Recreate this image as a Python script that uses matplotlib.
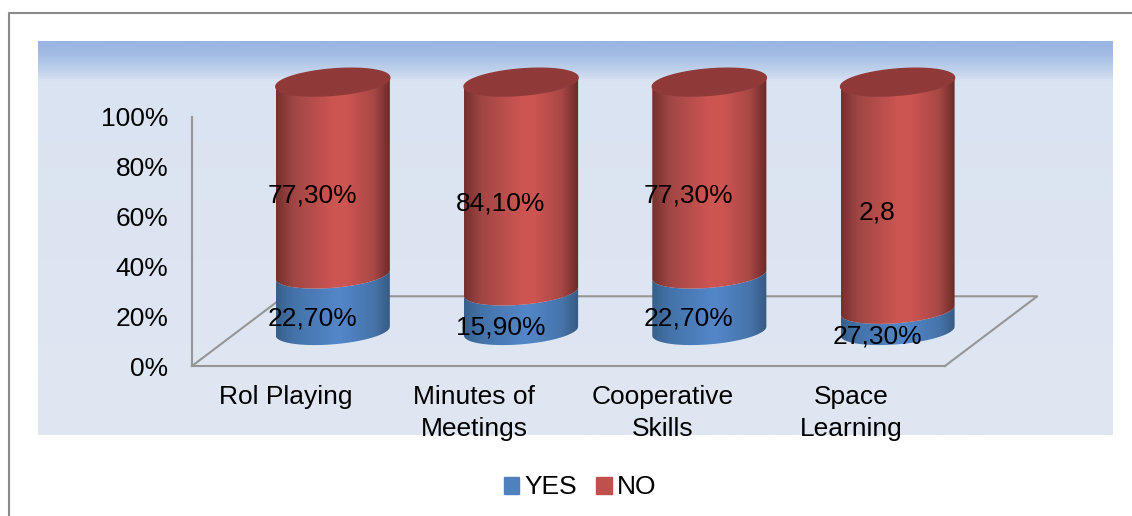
import numpy as np
import matplotlib
matplotlib.use('Agg')
import matplotlib.pyplot as plt
from matplotlib.colors import LinearSegmentedColormap
from matplotlib.patches import PathPatch, Patch
from matplotlib.path import Path

categories = ['Rol Playing', 'Minutes of\nMeetings', 'Cooperative\nSkills', 'Space\nLearning']
yes_values = [22.7, 15.9, 22.7, 8.5]
no_values = [77.3, 84.1, 77.3, 91.5]
yes_labels = ['22,70%', '15,90%', '22,70%', '27,30%']
no_labels = ['77,30%', '84,10%', '77,30%', '2,8']
y_ticks = [0, 20, 40, 60, 80, 100]
y_tick_labels = ['0%', '20%', '40%', '60%', '80%', '100%']

W, H = 1132, 516
plt.rcParams['font.family'] = ['Liberation Sans', 'DejaVu Sans']
FS = 19
GRID = '#969696'

red_cmap = LinearSegmentedColormap.from_list('red', [(0, '#75302e'), (.15, '#a04644'), (.5, '#cd5552'),
                                                     (.62, '#cc5451'), (.85, '#a84846'), (1, '#6a2927')])
blue_cmap = LinearSegmentedColormap.from_list('blue', [(0, '#385f8a'), (.15, '#4473aa'), (.55, '#5487c9'),
                                                       (.85, '#4674ab'), (1, '#375a82')])
panel_cmap = LinearSegmentedColormap.from_list('panel', [(0, '#98b4e0'), (.03, '#a3bce4'), (.08, '#c6d6ed'),
                                                         (.1, '#dae3f1'), (1, '#e0e7f3')])

fig = plt.figure(figsize=(W / 100, H / 100), dpi=100, facecolor='white')

# background, in pixels
bg = fig.add_axes([0, 0, 1, 1], zorder=-1)
bg.axis('off')
bg.imshow(np.linspace(0, 1, 400).reshape(-1, 1), extent=(38, 1113, 435, 41), cmap=panel_cmap, aspect='auto')
bg.set_xlim(0, W)
bg.set_ylim(H, 0)
bg.plot([9, 9, W], [H, 13, 13], color='#8a8a8a', lw=1.5)

# chart area: 0-100% on the front edge of the floor
ax = fig.add_axes([192 / W, 1 - 366 / H, (945 - 192) / W, (366 - 117) / H])
ax.patch.set_visible(False)

depth_x, depth_y = 0.49, 28.0
half_w, b, tilt = 0.303, 5.3, 1.8


def arc(xc, yc, t):
    return xc + half_w * np.cos(t), yc + b * np.sin(t) + tilt * np.cos(t)


def segmento(xc, y0, y1, cmap):
    x_low, y_low = arc(xc, y0, np.linspace(np.pi, 2 * np.pi, 60))
    x_up, y_up = arc(xc, y1, np.linspace(2 * np.pi, np.pi, 60))
    verts = np.column_stack([np.r_[x_low, x_up], np.r_[y_low, y_up]])
    patch = PathPatch(Path(verts), fc='none', ec='none', zorder=3, clip_on=False)
    ax.add_patch(patch)
    im = ax.imshow(np.linspace(0, 1, 256).reshape(1, -1), extent=(xc - half_w, xc + half_w, y0 - 8, y1 + 8),
                   cmap=cmap, aspect='auto', zorder=3, interpolation='bilinear')
    im.set_clip_box(fig.bbox)
    im.set_clip_path(patch)


x = np.arange(len(categories))
yes = np.array(yes_values)
no = np.array(no_values)
base = depth_y / 2

# floor
ax.plot([-.5, -.5 + depth_x, 3.5 + depth_x, 3.5], [0, depth_y, depth_y, 0], color=GRID, lw=1.5,
        clip_on=False, zorder=1)

for i in x:
    xc = i + depth_x / 2 + 0.003
    segmento(xc, base, base + yes[i], blue_cmap)
    segmento(xc, base + yes[i], base + yes[i] + no[i], red_cmap)
    top = base + yes[i] + no[i]
    xt, yt = arc(xc, top, np.linspace(0, 2 * np.pi, 120))
    ax.fill(xt, yt, color='#8f3a38', zorder=4, clip_on=False)

    ax.text(i + 0.139, base - b - 1 + yes[i] / 2, yes_labels[i], ha='center', va='center', fontsize=FS, zorder=5)
    ax.text(i + 0.139, base - b - 1.5 + yes[i] + no[i] / 2, no_labels[i], ha='center', va='center', fontsize=FS, zorder=5)

ax.set_xlim(-0.5, 3.5)
ax.set_ylim(0, 100)
ax.set_xticks(x)
ax.set_xticklabels(categories, fontsize=FS, linespacing=1.38)
ax.set_yticks(y_ticks)
ax.set_yticklabels(y_tick_labels, fontsize=FS)
ax.tick_params(axis='x', length=0, pad=14)
ax.tick_params(axis='y', length=0, pad=17)
for s in ['top', 'right']:
    ax.spines[s].set_visible(False)
for s in ['left', 'bottom']:
    ax.spines[s].set_color(GRID)
    ax.spines[s].set_linewidth(1.5)

handles = [Patch(color='#4f81bd', label='YES'), Patch(color='#c0504d', label='NO')]
fig.legend(handles=handles, loc='center', bbox_to_anchor=(580 / W, 1 - 487.5 / H), ncol=2, frameon=False,
           fontsize=FS, handlelength=0.6, handleheight=0.6, handletextpad=0.2, columnspacing=0.7)

fig.savefig('out.png', dpi=100, facecolor='white')
